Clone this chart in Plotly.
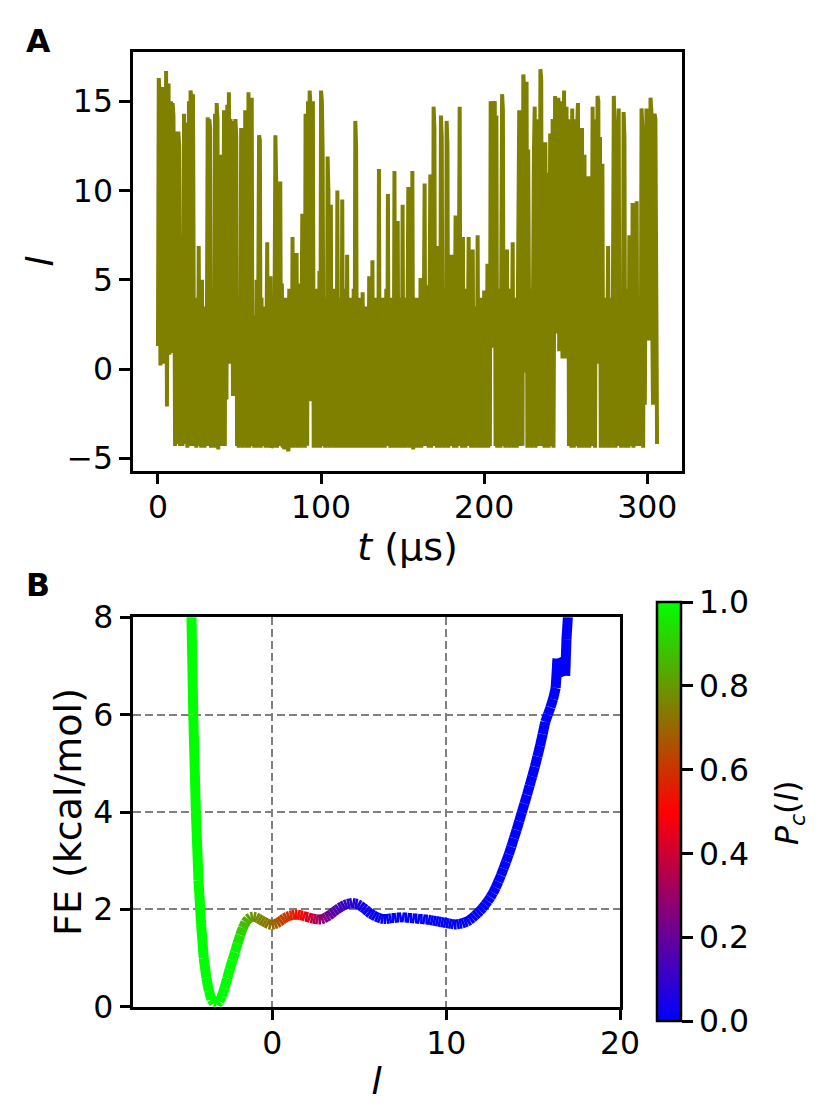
import plotly.graph_objects as go
from plotly.colors import sample_colorscale

# panel A: l(t) trajectory, sampled every 0.5 microseconds
l_traj = [
    1.3, 16.3, 15.5, 0.2, 12.0, 15.8, 0.3, 14.5, 15.6, 0.5,
    16.7, -2.1, 15.8, 16.0, 0.8, 13.5, 15.0, 0.9, 14.9, 14.2,
    7.5, -4.3, 13.3, 2.0, -4.2, 13.3, 12.5, -4.3, 3.5, 7.5,
    -4.3, 2.5, 14.3, -4.2, 13.8, 3.0, -4.4, 1.5, 15.0, -4.3,
    15.6, 15.2, -4.3, 15.4, 1.5, -4.3, 4.0, -4.4, 2.5, -4.3,
    6.9, -4.2, 3.5, -4.4, 5.0, -4.3, 2.0, -4.4, 3.5, -4.3,
    2.0, 14.1, -4.3, 14.0, 13.5, -4.4, 4.5, -4.3, 3.0, -4.4,
    14.3, -4.4, 14.9, 14.0, -4.5, 3.0, -4.3, 12.0, 4.0, -4.3,
    3.0, 14.5, -4.3, 13.5, -1.7, 14.8, 2.0, 15.5, 0.3, 14.0,
    0.3, 13.9, -1.5, 12.5, 0.5, 14.0, 13.0, -4.3, 3.5, -4.4,
    4.0, -4.3, 13.5, 2.0, -4.4, 3.5, -4.3, 14.5, 3.0, -4.4,
    3.0, 15.5, -4.4, 14.8, 2.0, 15.2, -4.3, 2.5, -4.4, 3.0,
    -4.3, 5.0, -4.4, 4.0, 13.1, 12.8, -4.4, 4.0, -4.3, 3.5,
    -4.3, 2.5, -4.4, 4.5, 7.1, -4.4, 3.0, -4.3, 5.2, -4.4,
    -4.3, 4.0, -4.4, 3.5, 13.1, 10.5, -4.4, 3.5, -4.3, 4.5,
    10.5, -4.3, 4.8, -4.4, 3.5, -4.5, 4.0, -4.3, 3.0, -4.4,
    -4.6, 4.5, -4.3, 3.5, -4.4, 7.4, -4.4, 4.0, -4.3, 3.0,
    6.5, -4.4, 3.5, -4.3, 4.8, -4.4, 3.5, 8.7, -4.3, 4.0,
    -4.4, 14.3, 13.5, -4.3, 15.0, -0.4, 15.6, 14.8, -1.8, 3.5,
    15.0, -4.4, 3.5, -4.3, 4.5, -4.4, 3.0, -4.3, 5.5, -4.4,
    15.6, 15.0, 12.0, -4.3, 4.0, -4.4, 3.5, -4.3, 11.9, 10.0,
    -4.4, 4.0, 9.2, -4.3, 2.5, -4.4, 4.5, -4.3, 3.0, -4.4,
    10.0, -4.4, 3.0, -4.3, 4.0, -4.4, 9.5, -4.3, 3.5, -4.4,
    4.5, -4.3, 6.4, -4.4, 3.0, -4.3, 4.0, -4.4, 3.0, -4.3,
    4.5, -4.4, 13.9, 12.5, -4.4, 3.5, -4.3, 4.0, -4.4, 3.0,
    -4.3, 4.3, -4.4, 2.5, -4.3, 3.5, -4.4, 3.0, -4.3, 5.2,
    -4.4, 3.0, -4.3, 6.1, -4.4, 4.0, -4.3, 3.5, -4.4, 4.0,
    -4.4, 11.2, -4.3, 3.5, -4.4, 4.0, -4.3, 3.5, -4.4, 2.5,
    4.5, -4.3, 9.8, -4.3, 3.0, -4.4, 4.0, -4.3, 3.5, -4.4,
    11.1, -4.3, 3.5, -4.4, 8.3, -4.4, 3.0, -4.3, 4.0, -4.4,
    9.2, -4.3, 3.5, -4.4, 4.0, -4.3, 3.0, 10.2, -4.4, 3.5,
    -4.3, 4.0, 11.1, -4.5, 3.5, -4.3, 4.0, -4.4, 3.0, -4.3,
    4.0, -4.4, 5.1, -4.4, 3.0, -4.3, 4.0, 10.4, -4.3, 3.5,
    -4.3, 4.7, -4.4, 4.0, 10.9, -4.4, 3.5, -4.3, 14.7, 13.5,
    -4.3, 4.5, -4.4, 6.9, -4.3, 4.0, -4.4, 14.2, 13.0, -4.3,
    3.5, -4.4, 4.5, -4.3, 13.9, 12.5, -4.4, 4.0, -4.3, 3.0,
    6.4, -4.3, 4.5, -4.4, 3.5, 8.6, -4.4, 3.0, -4.3, 4.0,
    14.7, -4.3, 4.0, -4.4, 7.4, -4.3, 3.5, -4.4, 4.5, -4.3,
    4.0, 7.4, -4.3, 3.5, -4.4, 4.0, 6.7, -4.4, 3.0, -4.3,
    3.5, -4.4, 7.5, -4.3, 4.0, -4.4, 3.0, -4.3, 4.0, -4.4,
    4.4, -4.3, 3.5, -4.4, 5.9, -4.4, 3.0, -4.3, 15.0, 14.5,
    14.0, 1.2, 14.8, 15.0, -4.3, 14.2, -4.4, 4.5, -4.3, 3.5,
    -4.4, 4.0, 15.4, 14.5, -4.3, 3.5, -4.4, 4.0, 6.7, -4.3,
    4.5, -4.4, 3.5, -4.3, 4.0, 7.1, -4.4, 3.0, -4.3, 4.0,
    -4.4, 4.0, 10.0, 14.5, -4.3, 13.8, 9.0, -4.3, 16.5, 15.8,
    -0.2, 14.0, 16.1, -4.4, 12.3, 3.5, -4.3, 4.5, -4.4, 3.0,
    4.5, 12.0, 14.7, -4.4, 14.0, 3.5, -4.3, 13.5, 4.0, 16.8,
    16.2, -4.3, 5.0, 12.0, -4.4, 12.7, 4.0, -4.3, 11.0, -4.4,
    4.0, 13.2, -4.3, 12.5, 14.0, -4.4, 13.5, 15.3, 2.0, 14.5,
    2.0, 15.2, 1.0, 14.5, 1.2, 15.0, 0.6, 14.8, 15.6, 1.0,
    0.6, 14.7, 1.2, 14.0, -4.3, 5.0, 13.5, -4.4, 14.6, 3.0,
    -4.4, 14.0, 6.0, -4.3, 13.5, 14.9, -4.4, 12.5, 4.0, -4.4,
    13.5, -4.4, 3.0, 12.0, -4.3, 4.0, -4.4, 3.5, 10.8, -4.4,
    4.5, -4.3, 13.5, 14.7, -4.3, 3.5, -4.4, 14.0, 0.5, 15.3,
    15.0, 0.3, 13.0, -4.4, 4.0, 11.5, -4.3, 3.5, -4.4, 4.0,
    -4.3, 3.5, 6.9, -4.4, 4.0, -4.3, 3.5, -4.4, 14.0, 15.3,
    13.5, -4.4, 4.0, -4.3, 12.5, 14.6, -4.3, 3.5, -4.4, 4.0,
    -4.3, 14.4, 13.0, -4.4, 4.5, -4.3, 3.5, -4.4, 7.5, -4.3,
    4.0, -4.3, 9.3, -4.4, 3.5, -4.3, 4.0, 9.4, -4.3, 3.5,
    -4.3, 4.0, -2.0, 14.6, 13.5, -4.4, 12.5, -2.0, 14.0, 14.6,
    1.6, 14.0, 13.5, 1.6, 15.2, 14.5, 3.5, -2.0, 14.0, 14.3,
    14.0, 4.9, -4.2,
]
dt = 0.5
t_us = [i * dt for i in range(len(l_traj))]

# panel B: free energy profile and committor along l
l_fe = [
    -4.70, -4.55, -4.40, -4.25, -4.10, -3.95, -3.80, -3.65, -3.50, -3.35,
    -3.20, -3.05, -2.90, -2.75, -2.60, -2.45, -2.30, -2.15, -2.00, -1.85,
    -1.70, -1.55, -1.40, -1.25, -1.10, -0.95, -0.80, -0.65, -0.50, -0.35,
    -0.20, -0.05, 0.10, 0.25, 0.40, 0.55, 0.70, 0.85, 1.00, 1.15,
    1.30, 1.45, 1.60, 1.75, 1.90, 2.05, 2.20, 2.35, 2.50, 2.65,
    2.80, 2.95, 3.10, 3.25, 3.40, 3.55, 3.70, 3.85, 4.00, 4.15,
    4.30, 4.45, 4.60, 4.75, 4.90, 5.05, 5.20, 5.35, 5.50, 5.65,
    5.80, 5.95, 6.10, 6.25, 6.40, 6.55, 6.70, 6.85, 7.00, 7.15,
    7.30, 7.45, 7.60, 7.75, 7.90, 8.05, 8.20, 8.35, 8.50, 8.65,
    8.80, 8.95, 9.10, 9.25, 9.40, 9.55, 9.70, 9.85, 10.00, 10.15,
    10.30, 10.45, 10.60, 10.75, 10.90, 11.05, 11.20, 11.35, 11.50, 11.65,
    11.80, 11.95, 12.10, 12.25, 12.40, 12.55, 12.70, 12.85, 13.00, 13.15,
    13.30, 13.45, 13.60, 13.75, 13.90, 14.05, 14.20, 14.35, 14.50, 14.65,
    14.80, 14.95, 15.10, 15.25, 15.40, 15.55, 15.70, 15.85, 16.00, 16.15,
    16.30, 16.40, 16.85, 16.92, 17.00, 17.10,
]
fe = [
    8.90, 6.00, 4.00, 2.60, 1.70, 1.00, 0.60, 0.32, 0.15, 0.07,
    0.05, 0.11, 0.22, 0.38, 0.58, 0.77, 0.95, 1.12, 1.30, 1.47,
    1.62, 1.73, 1.80, 1.84, 1.85, 1.84, 1.81, 1.78, 1.75, 1.72,
    1.69, 1.68, 1.69, 1.71, 1.74, 1.78, 1.82, 1.85, 1.87, 1.88,
    1.89, 1.89, 1.88, 1.87, 1.85, 1.84, 1.82, 1.81, 1.80, 1.79,
    1.79, 1.81, 1.84, 1.87, 1.91, 1.95, 1.99, 2.03, 2.06, 2.09,
    2.11, 2.12, 2.13, 2.12, 2.11, 2.08, 2.04, 2.00, 1.95, 1.91,
    1.88, 1.85, 1.83, 1.81, 1.80, 1.80, 1.81, 1.82, 1.82, 1.83,
    1.83, 1.84, 1.83, 1.83, 1.82, 1.82, 1.81, 1.81, 1.80, 1.80,
    1.79, 1.79, 1.78, 1.77, 1.76, 1.75, 1.74, 1.73, 1.72, 1.71,
    1.70, 1.69, 1.69, 1.70, 1.71, 1.73, 1.75, 1.78, 1.82, 1.87,
    1.92, 1.97, 2.03, 2.10, 2.17, 2.25, 2.34, 2.45, 2.57, 2.70,
    2.84, 2.98, 3.13, 3.29, 3.46, 3.63, 3.81, 3.99, 4.17, 4.35,
    4.54, 4.73, 4.93, 5.14, 5.36, 5.60, 5.85, 6.00, 6.15, 6.32,
    6.55, 7.15, 6.80, 7.55, 8.00, 8.70,
]
pc = [
    1.00, 1.00, 1.00, 1.00, 1.00, 1.00, 1.00, 1.00, 1.00, 1.00,
    1.00, 1.00, 1.00, 1.00, 1.00, 1.00, 1.00, 0.99, 0.97, 0.93,
    0.89, 0.86, 0.83, 0.81, 0.79, 0.78, 0.76, 0.75, 0.74, 0.73,
    0.72, 0.71, 0.69, 0.67, 0.65, 0.63, 0.62, 0.60, 0.58, 0.56,
    0.54, 0.52, 0.51, 0.49, 0.46, 0.43, 0.40, 0.37, 0.34, 0.31,
    0.29, 0.26, 0.24, 0.21, 0.19, 0.17, 0.15, 0.14, 0.12, 0.11,
    0.10, 0.09, 0.08, 0.06, 0.05, 0.04, 0.03, 0.03, 0.02, 0.02,
    0.01, 0.01, 0.00, 0.00, 0.00, 0.00, 0.00, 0.00, 0.00, 0.00,
    0.00, 0.00, 0.00, 0.00, 0.00, 0.00, 0.00, 0.00, 0.00, 0.00,
    0.00, 0.00, 0.00, 0.00, 0.00, 0.00, 0.00, 0.00, 0.00, 0.00,
    0.00, 0.00, 0.00, 0.00, 0.00, 0.00, 0.00, 0.00, 0.00, 0.00,
    0.00, 0.00, 0.00, 0.00, 0.00, 0.00, 0.00, 0.00, 0.00, 0.00,
    0.00, 0.00, 0.00, 0.00, 0.00, 0.00, 0.00, 0.00, 0.00, 0.00,
    0.00, 0.00, 0.00, 0.00, 0.00, 0.00, 0.00, 0.00, 0.00, 0.00,
    0.00, 0.00, 0.00, 0.00, 0.00, 0.00,
]

cscale = [[0.0, "rgb(0,0,255)"], [0.5, "rgb(255,0,0)"], [1.0, "rgb(0,255,0)"]]
FONT = "DejaVu Sans"
FS = 31.5
W, H = 830, 1120
OFF = 8  # page body margin shifts the plot by this many px


def px(x):
    return (x - OFF) / W


def py(y):
    return 1 - (y - OFF) / H


fig = go.Figure()

fig.add_trace(go.Scatter(
    x=t_us, y=l_traj, mode="lines",
    line=dict(color="#808000", width=4),
    xaxis="x", yaxis="y", showlegend=False, hoverinfo="skip",
))

# colour each segment of the FE curve by its committor value
seg_pc = [(pc[i] + pc[i + 1]) / 2 for i in range(len(pc) - 1)]
seg_col = sample_colorscale(cscale, seg_pc)
for i in range(len(l_fe) - 1):
    fig.add_trace(go.Scatter(
        x=[l_fe[i], l_fe[i + 1]], y=[fe[i], fe[i + 1]], mode="lines",
        line=dict(color=seg_col[i], width=10),
        xaxis="x2", yaxis="y2", showlegend=False, hoverinfo="skip",
    ))

# invisible markers that carry the colorbar
fig.add_trace(go.Scatter(
    x=l_fe, y=fe, mode="markers", xaxis="x2", yaxis="y2",
    showlegend=False, hoverinfo="skip",
    marker=dict(
        size=1, opacity=0, color=pc, colorscale=cscale, cmin=0, cmax=1,
        showscale=True,
        colorbar=dict(
            x=px(656.7), xanchor="left", xpad=0,
            y=py(811.6), yanchor="middle", ypad=0,
            thickness=24, len=418.7, lenmode="pixels",
            outlinewidth=2.5, outlinecolor="black",
            tickvals=[0, 0.2, 0.4, 0.6, 0.8, 1.0], tickformat=".1f",
            ticks="outside", ticklen=11, tickwidth=2.5, tickcolor="black",
            tickfont=dict(family=FONT, size=FS, color="black"),
        ),
    ),
))

axis_style = dict(
    showline=True, linewidth=2.5, linecolor="black", mirror=True,
    ticks="outside", ticklen=11, tickwidth=2.5, tickcolor="black",
    tickfont=dict(family=FONT, size=FS, color="black"),
    zeroline=False, automargin=False,
)

fig.update_layout(
    template="none",
    width=W, height=H,
    margin=dict(l=0, r=0, t=0, b=0, pad=0),
    paper_bgcolor="white", plot_bgcolor="white",
    font=dict(family=FONT, size=FS, color="black"),
    xaxis=dict(
        domain=[px(133), px(682)], anchor="y", range=[-15.3, 321.3],
        tickvals=[0, 100, 200, 300], showgrid=False, ticklabelstandoff=-4,
        title=dict(text="<i>t</i> (μs)", standoff=0), **axis_style,
    ),
    yaxis=dict(
        domain=[py(470.7), py(52)], anchor="x",
        range=[-5.69, 17.76], tickvals=[-5, 0, 5, 10, 15], showgrid=False,
        title=dict(text="<i>l</i>", standoff=2), **axis_style,
    ),
    xaxis2=dict(
        domain=[px(133.3), px(620)], anchor="y2", range=[-8, 20],
        tickvals=[0, 10, 20], showgrid=True, gridcolor="#808080",
        gridwidth=2, griddash="8px,4px", ticklabelstandoff=-4,
        title=dict(text="<i>l</i>", standoff=8), **axis_style,
    ),
    yaxis2=dict(
        domain=[py(1006.7), py(617.3)], anchor="x2",
        range=[0, 8], tickvals=[0, 2, 4, 6, 8], showgrid=True,
        gridcolor="#808080", gridwidth=2, griddash="8px,4px",
        title=dict(text="FE (kcal/mol)", standoff=0), **axis_style,
    ),
    annotations=[
        dict(text="<b>A</b>", x=px(24), y=py(41.5),
             xref="paper", yref="paper", xanchor="left", yanchor="middle",
             showarrow=False, font=dict(family=FONT, size=FS, color="black")),
        dict(text="<b>B</b>", x=px(24), y=py(585),
             xref="paper", yref="paper", xanchor="left", yanchor="middle",
             showarrow=False, font=dict(family=FONT, size=FS, color="black")),
        # colorbar label
        dict(text="<i>P<sub>c</sub></i>(<i>l</i>)", x=px(789), y=py(813),
             xref="paper", yref="paper", xanchor="center", yanchor="middle",
             textangle=-90, showarrow=False,
             font=dict(family=FONT, size=FS, color="black")),
    ],
)

fig.write_html("out.html")
